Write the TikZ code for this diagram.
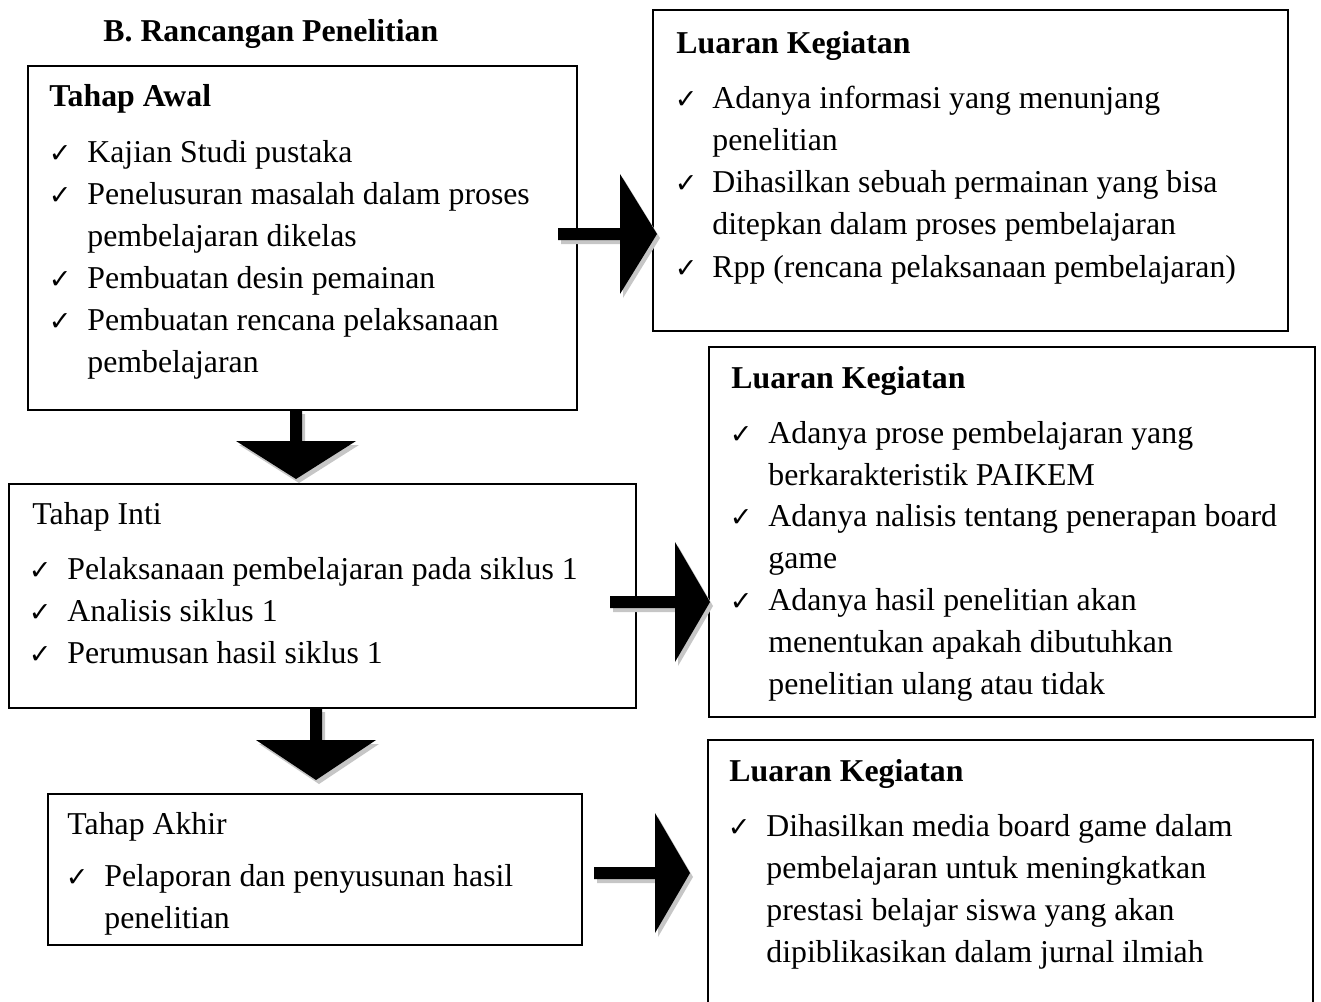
\documentclass[tikz,border=0pt]{standalone}
\usepackage{fontspec}
\setmainfont{Liberation Serif}
\newfontfamily\cekfont{DejaVu Sans}
\usetikzlibrary{fit}

% block arrows (x pangkal, x kepala, x ujung, y) and (x, y pangkal, y kepala, y ujung)
\newcommand{\jalurkanan}[4]{(#1,#4-6) -- (#2,#4-6) -- (#2,#4-60) -- (#3,#4) -- (#2,#4+60) -- (#2,#4+6) -- (#1,#4+6) -- cycle}
\newcommand{\jalurbawah}[4]{(#1-6,#2) -- (#1-6,#3) -- (#1-60,#3) -- (#1,#4) -- (#1+60,#3) -- (#1+6,#3) -- (#1+6,#2) -- cycle}
% lines of one item, first baseline on top
\newcommand{\baris}[1]{\begin{tabular}[t]{@{}l@{}}#1\end{tabular}}

\tikzset{
  kotak/.style={draw, line width=0.9pt, inner sep=0pt, fit={#1}},
  judul/.style={anchor=base west, inner sep=0pt, font=\fontsize{15.9}{21}\selectfont\bfseries},
  isi/.style={anchor=base west, inner sep=0pt, font=\fontsize{15.9}{21}\selectfont},
  cek/.style={anchor=base east, inner sep=0pt, font=\cekfont\fontsize{13.5}{21}\selectfont},
  bayang/.style={fill=gray!45, shift={(3,4)}},
}

\begin{document}
\begin{tikzpicture}[x=0.5pt, y=-0.5pt]
\useasboundingbox (0,0) rectangle (1321,1001);

\node[judul] (judul) at (103,41) {B. Rancangan Penelitian};

% boxes
\node[kotak={(28,66) (577,410)}] (awal) {};
\node[kotak={(653,10) (1288,331)}] (luaran1) {};
\node[kotak={(9,484) (636,708)}] (inti) {};
\node[kotak={(709,347) (1315,717)}] (luaran2) {};
\node[kotak={(48,794) (582,945)}] (akhir) {};
\begin{scope}
\clip (0,0) rectangle (1321,1001);
\node[kotak={(708,740) (1313,1012)}] (luaran3) {};
\end{scope}

% tahap awal
\node[judul] (awal-j) at (49,106) {Tahap Awal};
\foreach \y [count=\i] in {162,204,288,330}
  \node[cek] (awal-c\i) at (72,\y) {✓};
\node[isi] (awal-1) at (87,162) {Kajian Studi pustaka};
\node[isi] (awal-2) at (87,204) {\baris{Penelusuran masalah dalam proses\\pembelajaran dikelas}};
\node[isi] (awal-3) at (87,288) {Pembuatan desin pemainan};
\node[isi] (awal-4) at (87,330) {\baris{Pembuatan rencana pelaksanaan\\pembelajaran}};

% luaran 1
\node[judul] (luaran1-j) at (676,54) {Luaran Kegiatan};
\foreach \y [count=\i] in {108,192,277}
  \node[cek] (luaran1-c\i) at (698,\y) {✓};
\node[isi] (luaran1-1) at (712,108) {\baris{Adanya informasi yang menunjang\\penelitian}};
\node[isi] (luaran1-2) at (712,192) {\baris{Dihasilkan sebuah permainan yang bisa\\ditepkan dalam proses pembelajaran}};
\node[isi] (luaran1-3) at (712,277) {Rpp (rencana pelaksanaan pembelajaran)};

% tahap inti
\node[isi] (inti-j) at (32,524) {Tahap Inti};
\foreach \y [count=\i] in {579,621,663}
  \node[cek] (inti-c\i) at (52,\y) {✓};
\node[isi] (inti-1) at (67,579) {Pelaksanaan pembelajaran pada siklus 1};
\node[isi] (inti-2) at (67,621) {Analisis siklus 1};
\node[isi] (inti-3) at (67,663) {Perumusan hasil siklus 1};

% luaran 2
\node[judul] (luaran2-j) at (731,388) {Luaran Kegiatan};
\foreach \y [count=\i] in {443,526,610}
  \node[cek] (luaran2-c\i) at (753,\y) {✓};
\node[isi] (luaran2-1) at (768,443) {\baris{Adanya prose pembelajaran yang\\berkarakteristik PAIKEM}};
\node[isi] (luaran2-2) at (768,526) {\baris{Adanya nalisis tentang penerapan board\\game}};
\node[isi] (luaran2-3) at (768,610) {\baris{Adanya hasil penelitian akan\\menentukan apakah dibutuhkan\\penelitian ulang atau tidak}};

% tahap akhir
\node[isi] (akhir-j) at (67,834) {Tahap Akhir};
\node[cek] (akhir-c1) at (89,886) {✓};
\node[isi] (akhir-1) at (104,886) {\baris{Pelaporan dan penyusunan hasil\\penelitian}};

% luaran 3
\node[judul] (luaran3-j) at (729,781) {Luaran Kegiatan};
\node[cek] (luaran3-c1) at (751,836) {✓};
\node[isi] (luaran3-1) at (766,836) {\baris{Dihasilkan media board game dalam\\pembelajaran untuk meningkatkan\\prestasi belajar siswa yang akan\\dipiblikasikan dalam jurnal ilmiah}};

% arrows
\fill[bayang] \jalurkanan{558}{620}{657}{234};
\fill \jalurkanan{558}{620}{657}{234};
\fill[bayang] \jalurkanan{610}{675}{710}{602};
\fill \jalurkanan{610}{675}{710}{602};
\fill[bayang] \jalurkanan{594}{655}{690}{873};
\fill \jalurkanan{594}{655}{690}{873};
\fill[bayang] \jalurbawah{296}{410}{441}{479};
\fill \jalurbawah{296}{410}{441}{479};
\fill[bayang] \jalurbawah{316}{708}{740}{780};
\fill \jalurbawah{316}{708}{740}{780};
\end{tikzpicture}
\end{document}
